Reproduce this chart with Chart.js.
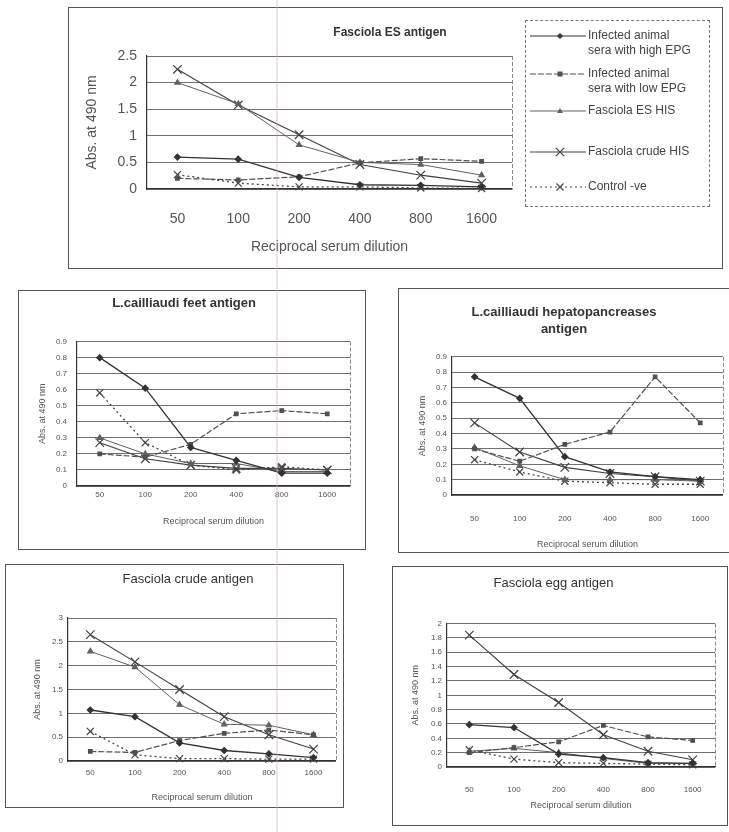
<!DOCTYPE html>
<html>
<head>
<meta charset="utf-8">
<script src="https://cdn.jsdelivr.net/npm/chart.js@4.4.1/dist/chart.umd.min.js"></script>
<style>
  html, body { margin:0; padding:0; background:#fff; }
  body { width:729px; height:832px; position:relative; overflow:hidden; font-family:"Liberation Sans", Arial, sans-serif; }
  .box { position:absolute; border:1px solid #555; box-sizing:border-box; }
  canvas { position:absolute; }
  .htitle { position:absolute; color:#333; white-space:nowrap; transform:translate(-50%,-50%); }
  #legend { position:absolute; left:525px; top:20px; width:185px; height:187px; border:1px dashed #777; box-sizing:border-box; }
  .li { position:absolute; left:0; }
  .li svg { position:absolute; left:4px; }
  .lt { position:absolute; left:62px; font-size:12px; line-height:15px; color:#444; white-space:nowrap; }
  #artifact { position:absolute; left:276px; top:0; width:2px; height:832px; background:rgba(210,170,210,0.35); }
</style>
</head>
<body>
<div class="box" style="left:68px;top:7px;width:655px;height:262px;"></div>
<div class="box" style="left:18px;top:290px;width:348px;height:260px;"></div>
<div class="box" style="left:398px;top:288px;width:345px;height:265px;"></div>
<div class="box" style="left:5px;top:564px;width:339px;height:244px;"></div>
<div class="box" style="left:392px;top:566px;width:336px;height:260px;"></div>

<canvas id="c1" width="654" height="261" style="left:68px;top:7px;"></canvas>
<canvas id="c2" width="347" height="265" style="left:18px;top:290px;"></canvas>
<canvas id="c3" width="332" height="272" style="left:398px;top:288px;"></canvas>
<canvas id="c4" width="338" height="244" style="left:5px;top:563px;"></canvas>
<canvas id="c5" width="335" height="258" style="left:392px;top:567px;"></canvas>

<div class="htitle" style="left:390px;top:32px;font-size:12px;font-weight:bold;">Fasciola ES antigen</div>
<div class="htitle" style="left:188px;top:578px;font-size:13px;">Fasciola crude antigen</div>

<div id="legend"></div>
<div id="artifact"></div>

<script>
// ---------- data ----------
const dilutions = ['50', '100', '200', '400', '800', '1600'];
const seriesLabels = ['Infected animal sera with high EPG', 'Infected animal sera with low EPG', 'Fasciola ES HIS', 'Fasciola crude HIS', 'Control -ve'];

// Fasciola ES antigen
const esHighEPG  = [0.60, 0.56, 0.22, 0.08, 0.07, 0.04];
const esLowEPG   = [0.20, 0.17, 0.23, 0.49, 0.57, 0.52];
const esEsHIS    = [2.00, 1.60, 0.83, 0.50, 0.46, 0.26];
const esCrudeHIS = [2.25, 1.58, 1.02, 0.46, 0.26, 0.11];
const esControl  = [0.27, 0.11, 0.04, 0.04, 0.02, 0.01];

// L.cailliaudi feet antigen
const feetHighEPG  = [0.80, 0.61, 0.24, 0.16, 0.08, 0.08];
const feetLowEPG   = [0.20, 0.18, 0.26, 0.45, 0.47, 0.45];
const feetEsHIS    = [0.30, 0.20, 0.14, 0.14, 0.09, 0.09];
const feetCrudeHIS = [0.27, 0.17, 0.13, 0.11, 0.11, 0.10];
const feetControl  = [0.58, 0.27, 0.13, 0.10, 0.12, 0.10];

// L.cailliaudi hepatopancreases antigen
const hepHighEPG  = [0.77, 0.63, 0.25, 0.15, 0.12, 0.10];
const hepLowEPG   = [0.30, 0.22, 0.33, 0.41, 0.77, 0.47];
const hepEsHIS    = [0.31, 0.19, 0.10, 0.10, 0.10, 0.09];
const hepCrudeHIS = [0.47, 0.28, 0.18, 0.14, 0.12, 0.09];
const hepControl  = [0.23, 0.15, 0.09, 0.08, 0.07, 0.07];

// Fasciola crude antigen
const crudeHighEPG  = [1.07, 0.93, 0.38, 0.22, 0.15, 0.07];
const crudeLowEPG   = [0.20, 0.18, 0.43, 0.58, 0.65, 0.55];
const crudeEsHIS    = [2.30, 1.97, 1.18, 0.77, 0.75, 0.55];
const crudeCrudeHIS = [2.65, 2.08, 1.50, 0.93, 0.55, 0.25];
const crudeControl  = [0.62, 0.13, 0.05, 0.05, 0.04, 0.04];

// Fasciola egg antigen
const eggHighEPG  = [0.59, 0.55, 0.18, 0.13, 0.06, 0.05];
const eggLowEPG   = [0.20, 0.27, 0.35, 0.58, 0.42, 0.37];
const eggEsHIS    = [0.22, 0.26, 0.20, 0.12, 0.05, 0.05];
const eggCrudeHIS = [1.84, 1.29, 0.90, 0.45, 0.22, 0.10];
const eggControl  = [0.24, 0.11, 0.06, 0.05, 0.04, 0.03];

// ---------- styles ----------
const seriesStyles = [
  { color:'#333333', point:'rectRot',  r:3,   dash:[],    width:1.3 },
  { color:'#505050', point:'rect',     r:2.5, dash:[6,2], width:1.2 },
  { color:'#606060', point:'triangle', r:3,   dash:[],    width:1.0 },
  { color:'#404040', point:'crossRot', r:6,   dash:[],    width:1.1 },
  { color:'#454545', point:'crossRot', r:5,   dash:[2,3], width:1.3 }
];

const FONT = '"Liberation Sans", Arial, sans-serif';

const frame = {
  id: 'frame',
  beforeDatasetsDraw(chart) {
    const { ctx, chartArea: a } = chart;
    ctx.save();
    ctx.strokeStyle = '#888';
    ctx.lineWidth = 1;
    ctx.setLineDash([4, 2]);
    ctx.beginPath();
    ctx.moveTo(Math.round(a.right) + 0.5, a.top);
    ctx.lineTo(Math.round(a.right) + 0.5, a.bottom);
    ctx.stroke();
    ctx.restore();
  }
};

function datasets(arrs) {
  return arrs.map((d, i) => {
    const s = seriesStyles[i];
    return {
      label: seriesLabels[i],
      data: d,
      borderColor: s.color,
      backgroundColor: s.color,
      borderWidth: s.width,
      borderDash: s.dash,
      pointStyle: s.point,
      pointRadius: s.r,
      pointBorderWidth: 1.2,
      pointBorderColor: s.color,
      pointBackgroundColor: s.color,
      tension: 0,
      clip: false
    };
  });
}

const fmt = v => String(Math.round(v * 100) / 100);

function build(id, c) {
  const opts = {
    responsive: false,
    animation: false,
    devicePixelRatio: 1,
    layout: { padding: { top: c.padTop || 0, right: c.padRight, left: 0, bottom: 0 } },
    plugins: {
      legend: { display: false },
      tooltip: { enabled: false },
      title: c.title ? {
        display: true,
        text: c.title,
        color: '#333',
        font: { family: FONT, size: c.titleSize, weight: c.titleWeight || 'bold', lineHeight: c.titleLH || 1.2 },
        padding: { top: c.titleTop, bottom: c.titleBottom }
      } : { display: false }
    },
    scales: {
      x: {
        type: 'category',
        offset: true,
        grid: { display: false, drawTicks: false },
        border: { display: true, color: '#333', width: 1.2 },
        ticks: { color: '#555', font: { family: FONT, size: c.tickSize }, padding: c.xTickPad, maxRotation: 0, autoSkip: false },
        title: { display: true, text: 'Reciprocal serum dilution', color: '#555', font: { family: FONT, size: c.axisTitleSize }, padding: { top: 0, bottom: c.xTitlePad } },
        afterFit: s => { s.height = c.xH; }
      },
      y: {
        min: 0, max: c.yMax,
        grid: { color: '#6f6f6f', lineWidth: 1, drawTicks: false },
        border: { display: true, color: '#333', width: 1.2 },
        ticks: { stepSize: c.yStep, color: '#555', font: { family: FONT, size: c.tickSize }, padding: c.yTickPad, callback: fmt },
        title: { display: true, text: 'Abs. at 490 nm', color: '#555', font: { family: FONT, size: c.axisTitleSize }, padding: { top: c.yTitlePad, bottom: 0 } },
        afterFit: s => { s.width = c.yW; }
      }
    }
  };
  return new Chart(document.getElementById(id), {
    type: 'line',
    data: { labels: dilutions, datasets: datasets(c.data) },
    options: opts,
    plugins: [frame]
  });
}

// Chart 1: Fasciola ES antigen (title drawn as HTML text)
build('c1', {
  data: [esHighEPG, esLowEPG, esEsHIS, esCrudeHIS, esControl],
  yMax: 2.5, yStep: 0.5, padTop: 49, padRight: 210,
  tickSize: 14, axisTitleSize: 14, yW: 79, yTickPad: 10, yTitlePad: 16,
  xH: 79, xTickPad: 22, xTitlePad: 12
});

// Chart 2
build('c2', {
  title: 'L.cailliaudi feet antigen', titleSize: 13, titleTop: 6, titleBottom: 30,
  data: [feetHighEPG, feetLowEPG, feetEsHIS, feetCrudeHIS, feetControl],
  yMax: 0.9, yStep: 0.1, padRight: 15,
  tickSize: 8, axisTitleSize: 9, yW: 59, yTickPad: 10, yTitlePad: 19,
  xH: 69, xTickPad: 4, xTitlePad: 28
});

// Chart 3
build('c3', {
  title: ['L.cailliaudi hepatopancreases', 'antigen'], titleSize: 13, titleLH: 1.38, titleTop: 15, titleBottom: 18,
  data: [hepHighEPG, hepLowEPG, hepEsHIS, hepCrudeHIS, hepControl],
  yMax: 0.9, yStep: 0.1, padRight: 0,
  tickSize: 8, axisTitleSize: 9, yW: 54, yTickPad: 5, yTitlePad: 19,
  xH: 65, xTickPad: 19, xTitlePad: 10
});

// Chart 4 (title drawn as HTML text)
build('c4', {
  data: [crudeHighEPG, crudeLowEPG, crudeEsHIS, crudeCrudeHIS, crudeControl],
  yMax: 3, yStep: 0.5, padTop: 55, padRight: 3,
  tickSize: 8, axisTitleSize: 9, yW: 63, yTickPad: 5, yTitlePad: 27,
  xH: 46, xTickPad: 7, xTitlePad: 4
});

// Chart 5
build('c5', {
  title: 'Fasciola egg antigen', titleSize: 13, titleWeight: 'normal', titleTop: 9, titleBottom: 32,
  data: [eggHighEPG, eggLowEPG, eggEsHIS, eggCrudeHIS, eggControl],
  yMax: 2, yStep: 0.2, padRight: 12,
  tickSize: 8, axisTitleSize: 9, yW: 55, yTickPad: 5, yTitlePad: 18,
  xH: 58, xTickPad: 18, xTitlePad: 14
});

// ---------- legend (HTML) ----------
const legendRows = [
  { lines: ['Infected animal', 'sera with high EPG'], y: 7 },
  { lines: ['Infected animal', 'sera with low  EPG'], y: 45 },
  { lines: ['Fasciola ES HIS'], y: 82 },
  { lines: ['Fasciola crude HIS'], y: 123 },
  { lines: ['Control -ve'], y: 158 }
];
function markerSvg(s) {
  const cx = 30, cy = 7, r = s.r;
  switch (s.point) {
    case 'rectRot': return `<polygon points="${cx},${cy-r} ${cx+r},${cy} ${cx},${cy+r} ${cx-r},${cy}" fill="${s.color}"/>`;
    case 'rect': return `<rect x="${cx-r}" y="${cy-r}" width="${2*r}" height="${2*r}" fill="${s.color}"/>`;
    case 'triangle': return `<polygon points="${cx},${cy-r} ${cx+r},${cy+r*0.7} ${cx-r},${cy+r*0.7}" fill="${s.color}"/>`;
    default: {
      const d = r * 0.7;
      return `<path d="M${cx-d},${cy-d}L${cx+d},${cy+d}M${cx+d},${cy-d}L${cx-d},${cy+d}" stroke="${s.color}" stroke-width="1.2"/>`;
    }
  }
}
const legendEl = document.getElementById('legend');
legendRows.forEach((row, i) => {
  const s = seriesStyles[i];
  const div = document.createElement('div');
  div.className = 'li';
  div.style.top = row.y + 'px';
  const dash = s.dash.length ? `stroke-dasharray="${s.dash.join(',')}"` : '';
  div.innerHTML =
    `<svg width="56" height="14" style="top:1px"><line x1="0" y1="7" x2="56" y2="7" stroke="${s.color}" stroke-width="1.2" ${dash}/>${markerSvg(s)}</svg>` +
    `<div class="lt" style="top:0">${row.lines.join('<br>')}</div>`;
  legendEl.appendChild(div);
});
</script>
</body>
</html>
